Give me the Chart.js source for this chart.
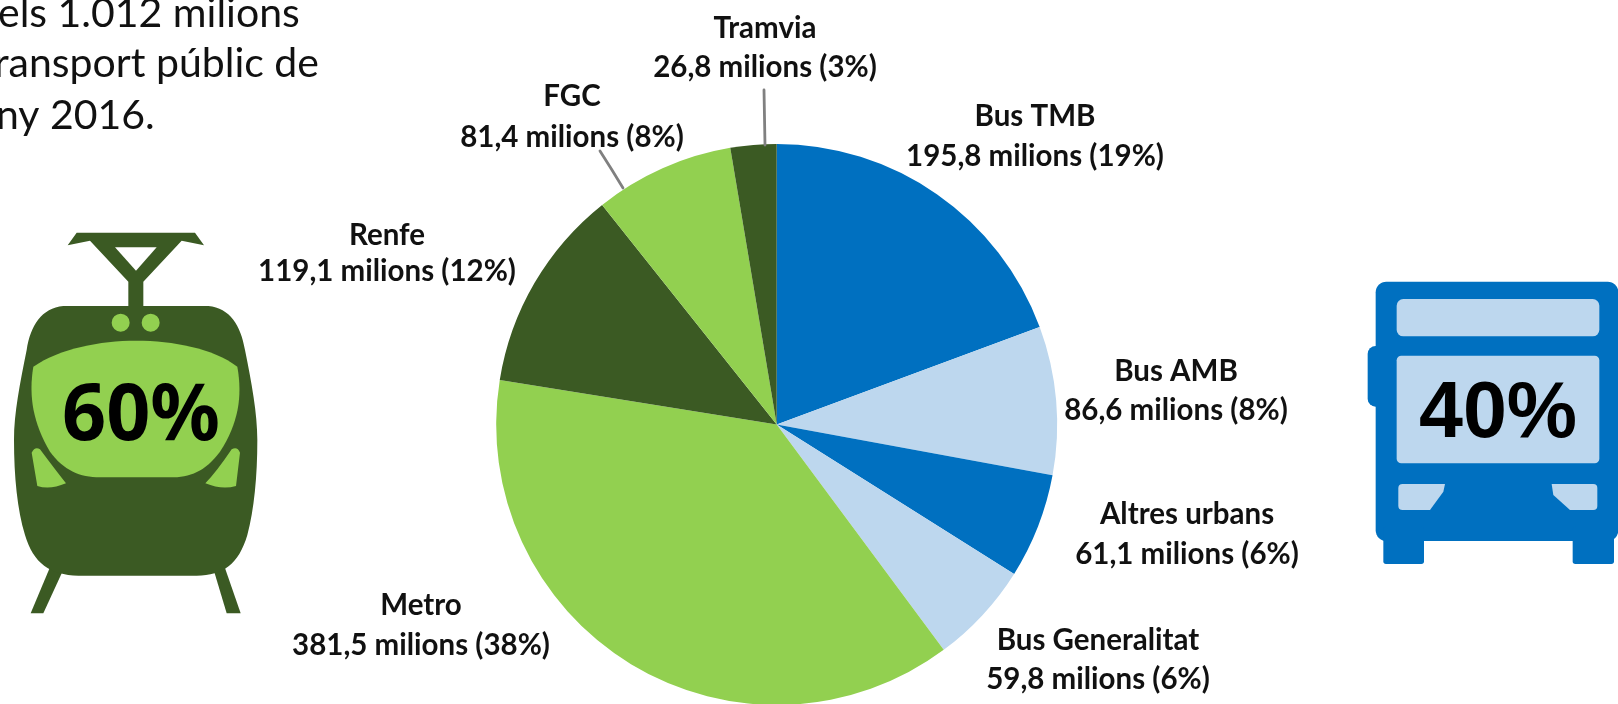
<!DOCTYPE html>
<html lang="ca">
<head>
<meta charset="utf-8">
<style>
html,body{margin:0;padding:0;background:#fff;overflow:hidden}
#wrap{position:relative;width:1618px;height:704px}
#c{filter:blur(0.4px)}
</style>
<script src="https://cdn.jsdelivr.net/npm/chart.js@4"></script>
</head>
<body>
<div id="wrap"><canvas id="c" width="1618" height="704"></canvas></div>
<script>
const categories = ['Bus TMB','Bus AMB','Altres urbans','Bus Generalitat','Metro','Renfe','FGC','Tramvia'];
const values = [195.8,86.6,61.1,59.8,381.5,119.1,81.4,26.8];
const shares = [19,8,6,6,38,12,8,3];
const introLines = ['els 1.012 milions','ransport públic de','ny 2016.'];
const tramShare = '60%';
const busShare = '40%';

const BLUE='#0070c0', LBLUE='#bdd7ee', GREEN='#92d050', DGREEN='#3b5a23';
const sliceColors=[BLUE,LBLUE,BLUE,LBLUE,GREEN,DGREEN,GREEN,DGREEN];
const labelFont='Lato';
// label anchors: centre x, first baseline, second baseline
const labelPos=[[1035,126,166],[1176,381,420],[1187,524,564],[1098,650,689],[421,615,655],[387,245,281],[572,106,147],[765,38,77]];
const introPos=[[-2,27],[-6,77],[-4,129]];

const fmt=v=>v.toFixed(1).replace('.',',');

function poly(ctx,pts){ctx.beginPath();pts.forEach((p,i)=>i?ctx.lineTo(p[0],p[1]):ctx.moveTo(p[0],p[1]));ctx.closePath();ctx.fill();}
function rr(ctx,x,y,w,h,r){ctx.beginPath();ctx.roundRect(x,y,w,h,r);ctx.fill();}

function drawTram(ctx){
  ctx.save();ctx.translate(0,210);ctx.scale(1/3,1/3);
  ctx.fillStyle=DGREEN;
  poly(ctx,[[230,68],[585,68],[612,106],[545,92],[430,215],[430,300],[385,300],[385,215],[270,92],[203,106]]);
  poly(ctx,[[155,1060],[192,1075],[130,1210],[92,1210]]);
  poly(ctx,[[635,1060],[670,1060],[722,1210],[680,1210]]);
  ctx.beginPath();
  ctx.moveTo(190,288);ctx.lineTo(625,288);
  ctx.bezierCurveTo(690,295,722,345,735,420);
  ctx.bezierCurveTo(755,520,772,610,772,690);
  ctx.bezierCurveTo(772,800,762,900,742,975);
  ctx.bezierCurveTo(715,1065,670,1095,590,1097);
  ctx.lineTo(235,1097);
  ctx.bezierCurveTo(150,1095,100,1060,75,975);
  ctx.bezierCurveTo(52,900,42,800,42,690);
  ctx.bezierCurveTo(42,610,60,520,80,420);
  ctx.bezierCurveTo(92,345,125,295,190,288);
  ctx.closePath();ctx.fill();
  ctx.fillStyle='#fff';
  poly(ctx,[[345,112],[470,112],[408,182]]);
  ctx.fillStyle=GREEN;
  ctx.beginPath();ctx.arc(362,338,27,0,Math.PI*2);ctx.arc(452,338,27,0,Math.PI*2);ctx.fill();
  ctx.beginPath();
  ctx.moveTo(100,470);
  ctx.bezierCurveTo(180,415,300,392,408,392);
  ctx.bezierCurveTo(520,392,640,415,712,470);
  ctx.bezierCurveTo(728,560,715,640,660,725);
  ctx.bezierCurveTo(615,785,570,802,510,802);
  ctx.lineTo(300,802);
  ctx.bezierCurveTo(240,802,190,780,150,725);
  ctx.bezierCurveTo(100,640,85,560,100,470);
  ctx.closePath();ctx.fill();
  ctx.beginPath();
  ctx.moveTo(95,728);ctx.quadraticCurveTo(105,708,120,718);ctx.quadraticCurveTo(170,785,198,820);
  ctx.quadraticCurveTo(150,840,112,828);ctx.closePath();ctx.fill();
  ctx.beginPath();
  ctx.moveTo(720,728);ctx.quadraticCurveTo(712,708,695,718);ctx.quadraticCurveTo(650,785,616,820);
  ctx.quadraticCurveTo(665,840,708,828);ctx.closePath();ctx.fill();
  ctx.restore();
  ctx.fillStyle='#000';ctx.textAlign='center';ctx.textBaseline='alphabetic';
  ctx.font='bold 78px "Noto Sans"';
  ctx.fillText(tramShare,141,440,158);
}
function drawBus(ctx){
  ctx.save();ctx.translate(1340,260);ctx.scale(1/3,1/3);
  ctx.fillStyle=BLUE;
  rr(ctx,83,258,60,182,24);
  rr(ctx,107,65,728,778,32);
  rr(ctx,130,800,122,112,8);
  rr(ctx,698,800,124,112,8);
  ctx.fillStyle=LBLUE;
  rr(ctx,170,117,608,112,20);
  rr(ctx,170,287,608,323,14);
  ctx.beginPath();ctx.moveTo(188,672);ctx.lineTo(315,672);ctx.lineTo(310,695);ctx.lineTo(270,750);ctx.lineTo(188,750);ctx.quadraticCurveTo(175,750,175,738);ctx.lineTo(175,684);ctx.quadraticCurveTo(175,672,188,672);ctx.closePath();ctx.fill();
  ctx.beginPath();ctx.moveTo(635,672);ctx.lineTo(760,672);ctx.quadraticCurveTo(772,672,772,684);ctx.lineTo(772,738);ctx.quadraticCurveTo(772,750,760,750);ctx.lineTo(690,750);ctx.lineTo(640,705);ctx.closePath();ctx.fill();
  ctx.restore();
  ctx.fillStyle='#000';ctx.textAlign='center';ctx.textBaseline='alphabetic';
  ctx.font='bold 79px "Liberation Sans"';
  ctx.fillText(busShare,1498,437);
}

const overlay={
  id:'overlay',
  afterDraw(chart){
    const ctx=chart.ctx;
    ctx.save();
    // leader lines
    ctx.strokeStyle='#808080';ctx.lineWidth=2.8;ctx.lineCap='round';
    ctx.beginPath();ctx.moveTo(764,90);ctx.lineTo(765,145);ctx.stroke();
    ctx.beginPath();ctx.moveTo(600,151);ctx.lineTo(612,170);ctx.lineTo(623,188);ctx.stroke();
    // slice labels
    ctx.fillStyle='#111';ctx.textAlign='center';ctx.textBaseline='alphabetic';
    categories.forEach((name,i)=>{
      const [x,y1,y2]=labelPos[i];
      ctx.font=`bold 29.5px "${labelFont}"`;
      ctx.fillText(name,x,y1);
      ctx.fillText(`${fmt(values[i])} milions (${shares[i]}%)`,x,y2);
    });
    // intro text
    ctx.textAlign='left';ctx.fillStyle='#111';
    ctx.font=`41px "${labelFont}"`;
    introLines.forEach((t,i)=>ctx.fillText(t,introPos[i][0],introPos[i][1]));
    drawTram(ctx);
    drawBus(ctx);
    ctx.restore();
  }
};

new Chart(document.getElementById('c'),{
  type:'pie',
  data:{labels:categories,datasets:[{data:values,backgroundColor:sliceColors,borderWidth:0}]},
  plugins:[overlay],
  options:{
    responsive:false,animation:false,radius:280.5,
    layout:{padding:{left:495,right:559.6,top:145,bottom:0}},
    plugins:{legend:{display:false},tooltip:{enabled:false}}
  }
});
</script>
</body>
</html>
